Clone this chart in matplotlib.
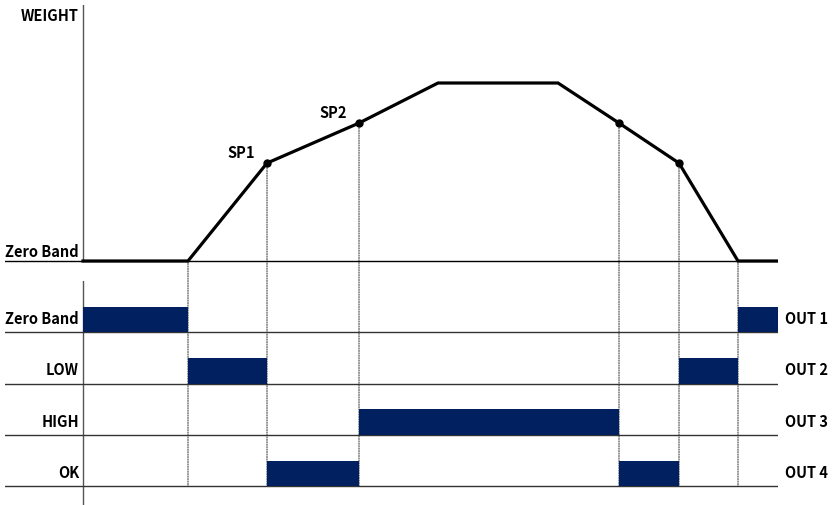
import matplotlib
matplotlib.use('Agg')
import matplotlib.pyplot as plt
from matplotlib.patches import ConnectionPatch

plt.rcParams['font.family'] = ['Noto Sans CJK KR', 'DejaVu Sans']
plt.rcParams['font.weight'] = 'bold'

# weight profile (time, weight %)
t_curve = [0, 10.5, 18.4, 27.6, 35.5, 47.5, 53.6, 59.6, 65.5, 69.5]
w_curve = [0, 0, 55, 77.5, 100, 100, 77.5, 55, 0, 0]
sp_idx = [2, 3, 6, 7]          # set points marked with dots
sp_names = ['SP1', 'SP2']
edge_idx = [1, 2, 3, 6, 7, 8]  # dotted guide lines

# outputs: (label, out name, on-intervals)
out_labels = ['Zero Band', 'LOW', 'HIGH', 'OK']
out_names = ['OUT 1', 'OUT 2', 'OUT 3', 'OUT 4']
out_on = [
    [(0, 10.5), (65.5, 69.5)],
    [(10.5, 18.4), (59.6, 65.5)],
    [(27.6, 53.6)],
    [(18.4, 27.6), (53.6, 59.6)],
]

NAVY = '#002060'
FS = 10.5
W, H = 835, 505
fig = plt.figure(figsize=(W / 100, H / 100), dpi=100)

# top: weight graph (pixel layout -> figure fractions)
xl, xr = 5, 778
ax1 = fig.add_axes([xl / W, (H - 271) / H, (xr - xl) / W, (271 - 5) / H])
px_t = (778 - 83) / 69.5
ax1.set_xlim(-(83 - xl) / px_t, 69.5)
px_w = 178 / 100
ytop = (261 - 5) / px_w
ax1.set_ylim(-10 / px_w, ytop)
ax1.axis('off')
ax1.plot([0, 0], [0, ytop], color='#555555', lw=1.0, zorder=1)
ax1.axhline(0, color='black', lw=1.0, zorder=1)
ax1.plot(t_curve, w_curve, color='black', lw=2.3, solid_joinstyle='miter', zorder=3)
ax1.plot([t_curve[i] for i in sp_idx], [w_curve[i] for i in sp_idx], 'o',
         color='black', ms=5, zorder=4)
for name, i in zip(sp_names, sp_idx[:2]):
    ax1.annotate(name, (t_curve[i], w_curve[i]), xytext=(-26, 10),
                 textcoords='offset pixels', ha='center', va='center', fontsize=FS)
ax1.text(-0.4, (261 - 16) / px_w, 'WEIGHT', ha='right', va='center', fontsize=FS)
ax1.text(-0.4, 9 / px_w, 'Zero Band', ha='right', va='center', fontsize=FS)

# bottom: output timing
ax2 = fig.add_axes([xl / W, 0, (xr - xl) / W, (H - 281) / H])
ax2.set_xlim(ax1.get_xlim())
ax2.set_ylim((505 - 281) / 51.3, 0)
ax2.axis('off')
ax2.axvline(0, color='#555555', lw=1.0, zorder=1)
for i, (lab, name, spans) in enumerate(zip(out_labels, out_names, out_on)):
    ax2.broken_barh([(a, b - a) for a, b in spans], (i + 0.5, 0.5),
                    facecolors=NAVY, zorder=2)
    ax2.axhline(i + 1, color='#333333', lw=1.0, zorder=1)
    ax2.text(-0.4, i + 0.74, lab, ha='right', va='center', fontsize=FS)
    ax2.text(70.2, i + 0.74, name, ha='left', va='center', fontsize=FS,
             clip_on=False)

# dotted guide lines from curve to last row
for i in edge_idx:
    con = ConnectionPatch(xyA=(t_curve[i], w_curve[i]), coordsA=ax1.transData,
                          xyB=(t_curve[i], len(out_labels)), coordsB=ax2.transData,
                          color='#444444', lw=0.8, linestyle=(0, (1, 1.2)), zorder=0)
    fig.add_artist(con)

fig.savefig('out.png', dpi=100)
